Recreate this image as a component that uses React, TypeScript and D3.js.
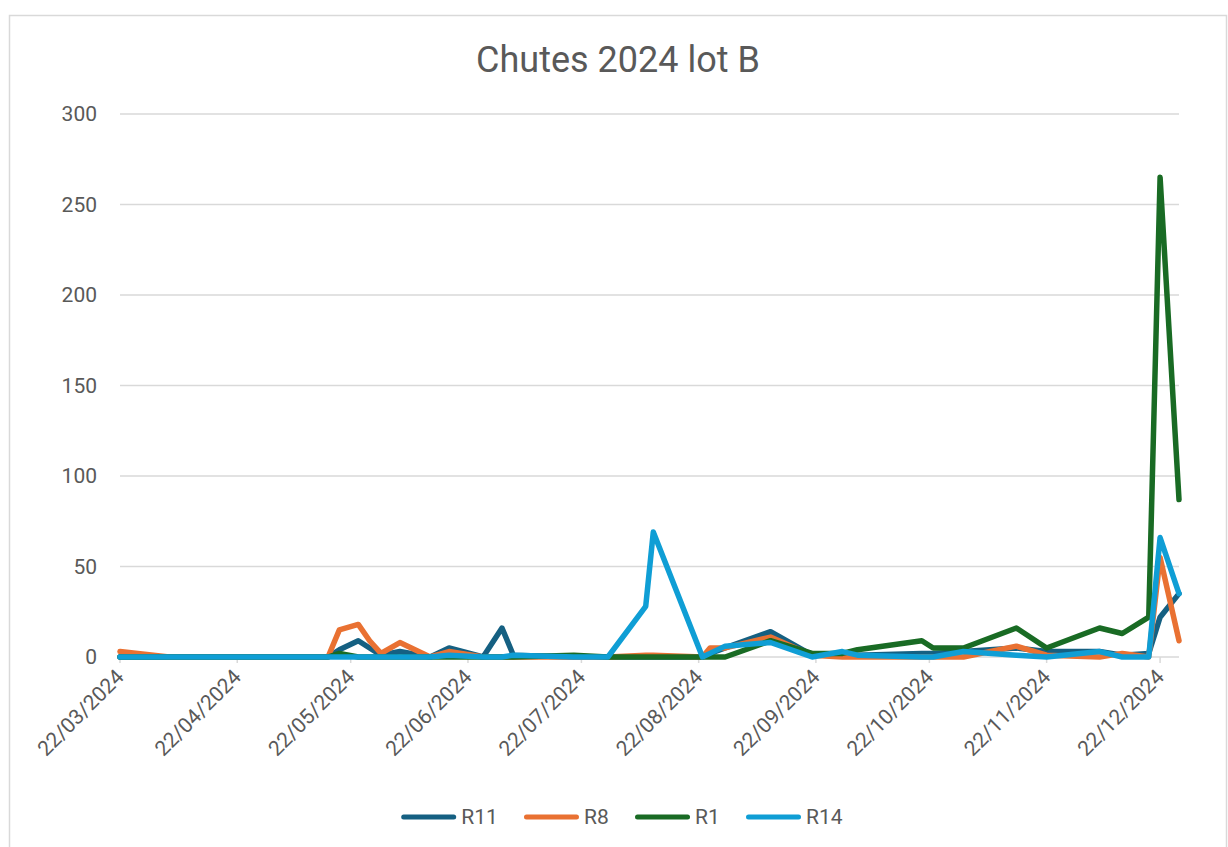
import React from 'react';
import * as d3 from 'd3';

const dates = [
  '2024-03-22', '2024-04-04', '2024-05-16', '2024-05-19', '2024-05-24', '2024-05-27',
  '2024-05-30', '2024-06-04', '2024-06-12', '2024-06-17', '2024-06-26', '2024-07-01',
  '2024-07-04', '2024-07-20', '2024-07-29', '2024-08-08', '2024-08-10', '2024-08-23',
  '2024-08-25', '2024-08-29', '2024-09-10', '2024-09-21', '2024-09-29', '2024-10-03',
  '2024-10-20', '2024-10-23', '2024-10-31', '2024-11-14', '2024-11-22', '2024-12-06',
  '2024-12-12', '2024-12-19', '2024-12-22', '2024-12-27',
];

const r11 = [0, 0, 0, 4, 9, 5, 1, 3, 0, 5, 0, 16, 1, 0, 0, 0, 0, 0, 2, 5, 14, 1, 2, 1, 2, 2, 3, 5, 3, 3, 1, 2, 22, 35];
const r8 = [3, 0, 0, 15, 18, 9, 2, 8, 0, 3, 0, 0, 0, 0, 0, 1, 1, 0, 5, 5, 11, 1, 0, 0, 0, 0, 0, 6, 1, 0, 2, 0, 55, 9];
const r1 = [0, 0, 0, 2, 0, 0, 0, 0, 0, 0, 0, 0, 0, 1, 0, 0, 0, 0, 0, 0, 9, 2, 2, 4, 9, 5, 5, 16, 5, 16, 13, 22, 265, 87];
const r14 = [0, 0, 0, 0, 0, 0, 0, 0, 0, 1, 0, 0, 1, 0, 0, 28, 69, 0, 2, 6, 8, 0, 3, 1, 0, 0, 3, 1, 0, 3, 0, 0, 66, 35];

const seriesNames = ['R11', 'R8', 'R1', 'R14'];
const seriesValues = [r11, r8, r1, r14];
const colors = ['#156082', '#E97132', '#196B24', '#0F9ED5'];

const yTicks = [0, 50, 100, 150, 200, 250, 300];
const xTickLabels = [
  '22/03/2024', '22/04/2024', '22/05/2024', '22/06/2024', '22/07/2024',
  '22/08/2024', '22/09/2024', '22/10/2024', '22/11/2024', '22/12/2024',
];

const W = 1228;
const H = 847;
const FONT = 'Roboto, "Open Sans", sans-serif';
const TXT = '#595959';
const GRID = '#d9d9d9';

export default function App() {
  const parse = d3.utcParse('%Y-%m-%d');
  const parseTick = d3.utcParse('%d/%m/%Y');
  const xs = dates.map(d => parse(d) as Date);

  const x = d3.scaleUtc()
    .domain(d3.extent(xs) as [Date, Date])
    .range([120, 1179]);
  const y = d3.scaleLinear().domain([0, 300]).range([657, 114]);

  const line = d3.line<number>()
    .x((_, i) => x(xs[i]))
    .y(d => y(d));

  // legend layout
  const fs = 21;
  const textW = (s: string) => s.length * 0.56 * fs + 1.5;
  const sw = 55;
  const gap = 26;
  const itemW = seriesNames.map(n => sw + 5 + textW(n));
  const total = d3.sum(itemW) + gap * (seriesNames.length - 1);
  let lx = 622 - total / 2;
  const legendX = itemW.map(w => {
    const v = lx;
    lx += w + gap;
    return v;
  });

  return (
    <svg width={W} height={H} style={{ position: 'absolute', left: 0, top: 0, background: '#fff' }} fontFamily={FONT}>
      <path d={`M9.5,${H + 2} V15.5 H1226.5 V${H + 2}`} fill="none" stroke={GRID} strokeWidth={1.5} />

      <text x={618} y={72} textAnchor="middle" fontSize={36} fill={TXT}>Chutes 2024 lot B</text>

      {yTicks.map(t => (
        <g key={t}>
          <line x1={120} x2={1179} y1={y(t)} y2={y(t)} stroke={GRID} strokeWidth={1.5} />
          <text x={97} y={y(t)} dy="0.35em" textAnchor="end" fontSize={fs} fill={TXT}>{t}</text>
        </g>
      ))}

      {xTickLabels.map(l => {
        const tx = x(parseTick(l) as Date);
        return (
          <g key={l}>
            <line x1={tx} x2={tx} y1={657} y2={663} stroke={GRID} strokeWidth={1.5} />
            <text transform={`translate(${tx},${673}) rotate(-45)`} textAnchor="end" dy="0.35em" fontSize={fs} fill={TXT}>{l}</text>
          </g>
        );
      })}

      {seriesValues.map((vals, i) => (
        <path key={seriesNames[i]} d={line(vals) || ''} fill="none" stroke={colors[i]} strokeWidth={5.5}
          strokeLinejoin="round" strokeLinecap="round" />
      ))}

      {seriesNames.map((n, i) => (
        <g key={n} transform={`translate(${legendX[i]},817)`}>
          <line x1={2.5} x2={sw - 2.5} y1={0} y2={0} stroke={colors[i]} strokeWidth={5} strokeLinecap="round" />
          <text x={sw + 5} y={0} dy="0.35em" fontSize={fs} fill={TXT}>{n}</text>
        </g>
      ))}
    </svg>
  );
}
